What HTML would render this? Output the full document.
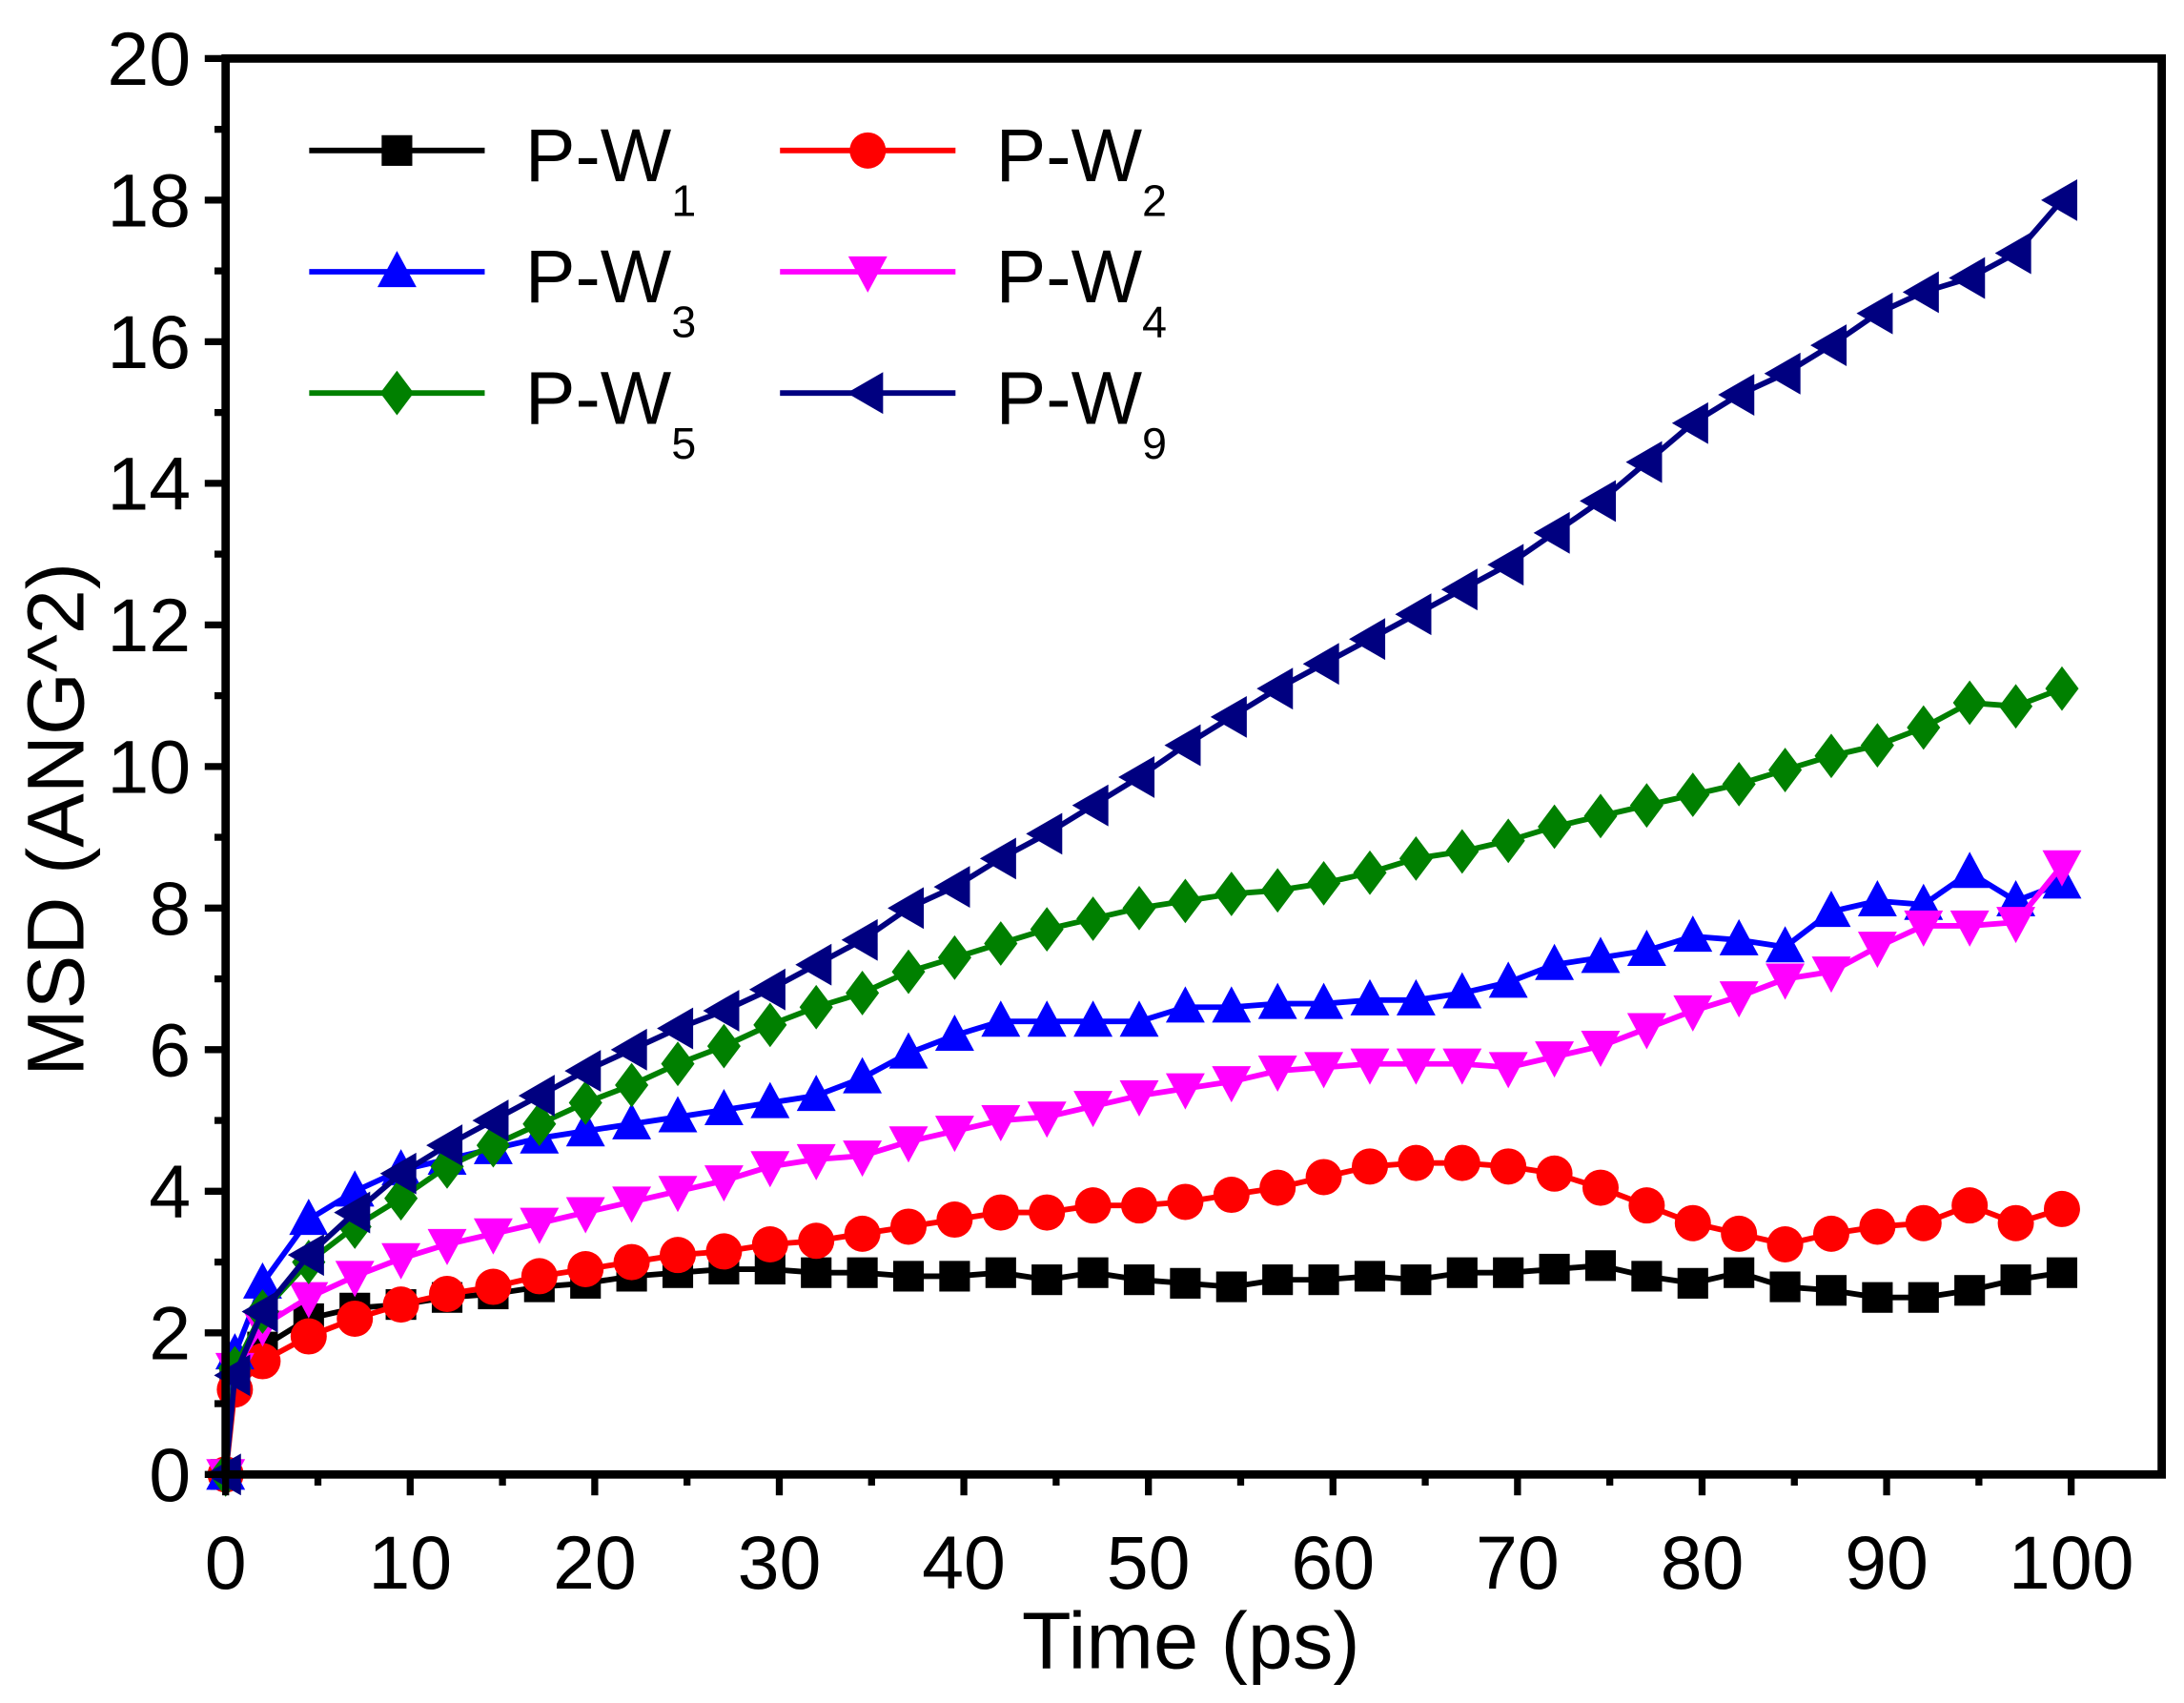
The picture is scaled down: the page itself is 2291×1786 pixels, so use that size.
<!DOCTYPE html>
<html><head><meta charset="utf-8"><style>html,body{margin:0;padding:0;background:#fff}svg{display:block}</style></head>
<body>
<svg id="s" width="2291" height="1786" viewBox="0 0 1568 1222" preserveAspectRatio="none" xmlns="http://www.w3.org/2000/svg" font-family="Liberation Sans, Arial, sans-serif">
<rect width="1568" height="1222" fill="#fff"/>
<g id="plot"></g>
<g id="axes"></g>
</svg>
<script>
const X0=162,SX=13.25,Y0=1058,SY=50.8;
const px=t=>X0+t*SX, py=v=>Y0-v*SY;
const ts=[0,0.5];for(let k=0;k<40;k++)ts.push(2+2.5*k);
const D={
k:[0,1.4,1.8,2.2,2.35,2.4,2.5,2.55,2.65,2.7,2.8,2.85,2.9,2.9,2.85,2.85,2.8,2.8,2.85,2.75,2.85,2.75,2.7,2.65,2.75,2.75,2.8,2.75,2.85,2.85,2.9,2.95,2.8,2.7,2.85,2.65,2.6,2.5,2.5,2.6,2.75,2.85],
r:[0,1.2,1.6,1.95,2.2,2.4,2.55,2.65,2.8,2.9,3.0,3.1,3.15,3.25,3.3,3.4,3.5,3.6,3.7,3.7,3.8,3.8,3.85,3.95,4.05,4.2,4.35,4.4,4.4,4.35,4.25,4.05,3.8,3.55,3.4,3.25,3.4,3.5,3.55,3.8,3.55,3.75],
b:[0,1.7,2.7,3.6,4.0,4.3,4.45,4.6,4.75,4.85,4.95,5.05,5.15,5.25,5.35,5.6,5.95,6.2,6.4,6.4,6.4,6.4,6.6,6.6,6.65,6.65,6.7,6.7,6.8,6.95,7.2,7.3,7.4,7.6,7.55,7.45,7.95,8.1,8.05,8.5,8.1,8.35],
m:[0,1.5,2.1,2.5,2.8,3.05,3.25,3.4,3.55,3.7,3.85,4.0,4.15,4.35,4.45,4.5,4.7,4.85,5.0,5.05,5.2,5.35,5.45,5.55,5.7,5.75,5.8,5.8,5.8,5.75,5.9,6.05,6.3,6.55,6.75,7.0,7.1,7.45,7.75,7.75,7.8,8.6],
g:[0,1.5,2.3,3.0,3.5,3.9,4.35,4.65,4.95,5.25,5.5,5.8,6.05,6.35,6.6,6.8,7.1,7.3,7.5,7.7,7.85,8.0,8.1,8.2,8.25,8.35,8.5,8.7,8.8,8.95,9.15,9.3,9.45,9.6,9.75,9.95,10.15,10.3,10.55,10.9,10.85,11.1],
n:[0,1.4,2.3,3.1,3.7,4.25,4.65,5.0,5.35,5.7,6.0,6.3,6.55,6.85,7.2,7.55,8.0,8.3,8.7,9.05,9.45,9.85,10.3,10.7,11.1,11.45,11.8,12.15,12.5,12.85,13.3,13.75,14.3,14.85,15.25,15.55,15.95,16.4,16.7,16.9,17.25,18.0]};
const S=[['k','#000','sq'],['r','#f00','ci'],['b','#00f','up'],['m','#f0f','dn'],['g','#008000','di'],['n','#000080','lt']];
function mk(x,y,t,c){
 if(t=='sq')return `<rect x="${x-11}" y="${y-11}" width="22" height="22" fill="${c}"/>`;
 if(t=='ci')return `<circle cx="${x}" cy="${y}" r="13" fill="${c}"/>`;
 if(t=='up')return `<polygon points="${x},${y-15} ${x+14},${y+11} ${x-14},${y+11}" fill="${c}"/>`;
 if(t=='dn')return `<polygon points="${x},${y+15} ${x+14},${y-11} ${x-14},${y-11}" fill="${c}"/>`;
 if(t=='di')return `<polygon points="${x},${y-16} ${x+12},${y} ${x},${y+16} ${x-12},${y}" fill="${c}"/>`;
 if(t=='lt')return `<polygon points="${x-15},${y} ${x+11},${y-15} ${x+11},${y+15}" fill="${c}"/>`;}
let h='';
for(const [k,c,t] of S){const v=D[k];let d='M';v.forEach((y,i)=>{d+=(i?' L':'')+px(ts[i]).toFixed(1)+','+py(y).toFixed(1)});
 h+=`<path d="${d}" fill="none" stroke="${c}" stroke-width="4" stroke-linejoin="round"/>`;
 v.forEach((y,i)=>{h+=mk(px(ts[i]),py(y),t,c)});}
const L=[[222,108,0,'1'],[560,108,1,'2'],[222,195,2,'3'],[560,195,3,'4'],[222,282,4,'5'],[560,282,5,'9']];
for(const [x,y,i,n] of L){const [k,c,t]=S[i];
 h+=`<line x1="${x}" y1="${y}" x2="${x+126}" y2="${y}" stroke="${c}" stroke-width="4"/>`+mk(x+63,y,t,c);
 h+=`<text x="${x+155}" y="${y+22}" font-size="54">P-W<tspan font-size="32" dy="25">${n}</tspan></text>`;}
document.getElementById('plot').innerHTML=h;
let a=`<rect x="162" y="42" width="1390" height="1016" fill="none" stroke="#000" stroke-width="6"/>`;
for(let t=0;t<=100;t+=5){const x=px(t),maj=t%10==0;a+=`<line x1="${x}" y1="1058" x2="${x}" y2="${1058+(maj?15:8)}" stroke="#000" stroke-width="5"/>`;
 if(maj)a+=`<text x="${x}" y="1140" font-size="54" text-anchor="middle">${t}</text>`;}
for(let v=0;v<=20;v+=1){const y=py(v),maj=v%2==0;a+=`<line x1="162" y1="${y}" x2="${162-(maj?15:8)}" y2="${y}" stroke="#000" stroke-width="5"/>`;
 if(maj)a+=`<text x="137" y="${y+19}" font-size="54" text-anchor="end">${v}</text>`;}
a+=`<text x="855" y="1197" font-size="58" text-anchor="middle">Time (ps)</text>`;
a+=`<text transform="translate(60 588) rotate(-90)" font-size="58" text-anchor="middle">MSD (ANG^2)</text>`;
document.getElementById('axes').innerHTML=a;
</script>
</body></html>
